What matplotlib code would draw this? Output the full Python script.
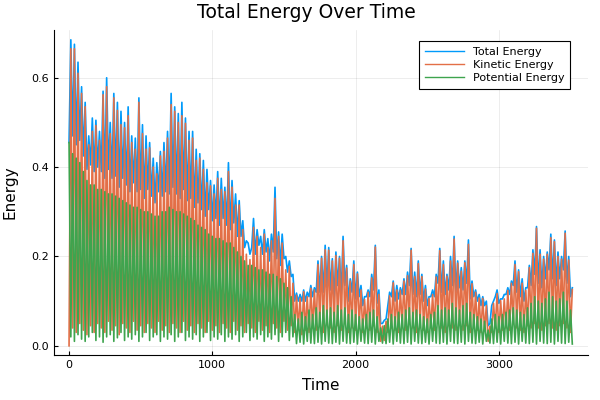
import numpy as np
import matplotlib
matplotlib.use("Agg")
import matplotlib.pyplot as plt

# sampling step of the simulation output (time units)
dt = 12.5

# values, alternating swing low / swing high
total_energy = [
    0.455, 0.685, 0.47, 0.675, 0.45, 0.635, 0.46, 0.58, 0.425, 0.545,
    0.395, 0.47, 0.405, 0.51, 0.39, 0.505, 0.40, 0.48, 0.39, 0.57,
    0.375, 0.60, 0.395, 0.50, 0.375, 0.565, 0.38, 0.545, 0.355, 0.525,
    0.375, 0.50, 0.36, 0.535, 0.345, 0.47, 0.365, 0.465, 0.345, 0.555,
    0.35, 0.495, 0.33, 0.47, 0.35, 0.455, 0.335, 0.42, 0.32, 0.41,
    0.345, 0.435, 0.335, 0.455, 0.345, 0.48, 0.34, 0.565, 0.355, 0.535,
    0.34, 0.52, 0.33, 0.545, 0.35, 0.51, 0.325, 0.48, 0.33, 0.48,
    0.31, 0.44, 0.32, 0.43, 0.305, 0.415, 0.29, 0.395, 0.305, 0.37,
    0.28, 0.36, 0.285, 0.39, 0.27, 0.375, 0.285, 0.355, 0.27, 0.41,
    0.26, 0.37, 0.275, 0.34, 0.245, 0.325, 0.245, 0.28, 0.22, 0.235,
    0.23, 0.205, 0.22, 0.285, 0.205, 0.26, 0.225, 0.245, 0.205, 0.26,
    0.21, 0.24, 0.19, 0.25, 0.21, 0.355, 0.195, 0.255, 0.18, 0.25,
    0.195, 0.20, 0.165, 0.19, 0.155, 0.16, 0.10, 0.118, 0.10, 0.115,
    0.10, 0.125, 0.10, 0.12, 0.11, 0.135, 0.11, 0.13, 0.12, 0.19,
    0.12, 0.20, 0.12, 0.225, 0.13, 0.22, 0.125, 0.195, 0.105, 0.21,
    0.135, 0.20, 0.115, 0.245, 0.135, 0.18, 0.10, 0.15, 0.12, 0.19,
    0.105, 0.165, 0.11, 0.135, 0.09, 0.11, 0.11, 0.125, 0.11, 0.16,
    0.125, 0.225, 0.095, 0.125, 0.05, 0.05, 0.057, 0.06, 0.09, 0.12,
    0.11, 0.145, 0.10, 0.135, 0.105, 0.13, 0.115, 0.15, 0.115, 0.165,
    0.135, 0.218, 0.115, 0.165, 0.11, 0.19, 0.115, 0.16, 0.10, 0.135,
    0.09, 0.11, 0.11, 0.125, 0.11, 0.16, 0.14, 0.218, 0.12, 0.19,
    0.115, 0.16, 0.125, 0.20, 0.135, 0.245, 0.12, 0.19, 0.13, 0.175,
    0.125, 0.19, 0.14, 0.237, 0.105, 0.145, 0.11, 0.125, 0.10, 0.115,
    0.09, 0.11, 0.09, 0.10, 0.045, 0.05, 0.09, 0.10, 0.11, 0.125,
    0.095, 0.105, 0.105, 0.115, 0.115, 0.13, 0.115, 0.145, 0.135, 0.19,
    0.12, 0.17, 0.11, 0.15, 0.10, 0.13, 0.13, 0.18, 0.135, 0.215,
    0.16, 0.267, 0.14, 0.215, 0.13, 0.20, 0.15, 0.21, 0.17, 0.25,
    0.15, 0.237, 0.135, 0.21, 0.15, 0.20, 0.17, 0.257, 0.14, 0.20,
    0.11, 0.13,
]

kinetic_energy = [
    0.00, 0.665, 0.04, 0.665, 0.03, 0.61, 0.05, 0.565, 0.035, 0.535,
    0.025, 0.45, 0.045, 0.48, 0.03, 0.493, 0.05, 0.46, 0.04, 0.562,
    0.03, 0.58, 0.055, 0.475, 0.035, 0.555, 0.045, 0.527, 0.025, 0.495,
    0.05, 0.488, 0.04, 0.515, 0.03, 0.455, 0.055, 0.44, 0.035, 0.545,
    0.045, 0.475, 0.03, 0.44, 0.05, 0.443, 0.04, 0.40, 0.03, 0.385,
    0.055, 0.425, 0.035, 0.435, 0.045, 0.465, 0.03, 0.54, 0.05, 0.525,
    0.04, 0.50, 0.03, 0.515, 0.055, 0.498, 0.035, 0.46, 0.045, 0.465,
    0.03, 0.415, 0.05, 0.42, 0.04, 0.395, 0.03, 0.365, 0.055, 0.358,
    0.035, 0.34, 0.045, 0.375, 0.03, 0.35, 0.05, 0.345, 0.04, 0.39,
    0.03, 0.355, 0.055, 0.315, 0.035, 0.315, 0.045, 0.26, 0.03, 0.205,
    0.05, 0.193, 0.04, 0.265, 0.03, 0.245, 0.055, 0.22, 0.035, 0.25,
    0.045, 0.22, 0.03, 0.235, 0.05, 0.33, 0.04, 0.245, 0.03, 0.23,
    0.055, 0.17, 0.035, 0.178, 0.045, 0.14, 0.03, 0.113, 0.04, 0.107,
    0.025, 0.121, 0.035, 0.11, 0.03, 0.129, 0.04, 0.125, 0.035, 0.182,
    0.045, 0.196, 0.03, 0.215, 0.05, 0.214, 0.04, 0.19, 0.03, 0.202,
    0.045, 0.196, 0.035, 0.235, 0.05, 0.174, 0.03, 0.145, 0.04, 0.182,
    0.035, 0.161, 0.045, 0.125, 0.03, 0.104, 0.04, 0.12, 0.035, 0.152,
    0.045, 0.221, 0.03, 0.115, 0.01, 0.044, 0.012, 0.055, 0.03, 0.112,
    0.04, 0.141, 0.035, 0.125, 0.03, 0.124, 0.045, 0.145, 0.035, 0.157,
    0.05, 0.214, 0.04, 0.155, 0.03, 0.184, 0.045, 0.155, 0.035, 0.127,
    0.03, 0.106, 0.04, 0.115, 0.035, 0.154, 0.05, 0.213, 0.04, 0.182,
    0.03, 0.156, 0.045, 0.19, 0.04, 0.239, 0.035, 0.185, 0.05, 0.167,
    0.035, 0.186, 0.045, 0.227, 0.03, 0.139, 0.04, 0.12, 0.035, 0.107,
    0.03, 0.106, 0.035, 0.09, 0.01, 0.044, 0.03, 0.095, 0.04, 0.117,
    0.03, 0.101, 0.035, 0.105, 0.04, 0.124, 0.035, 0.14, 0.05, 0.182,
    0.04, 0.166, 0.035, 0.14, 0.03, 0.124, 0.045, 0.175, 0.04, 0.207,
    0.05, 0.263, 0.04, 0.205, 0.035, 0.194, 0.045, 0.205, 0.05, 0.242,
    0.04, 0.233, 0.035, 0.20, 0.045, 0.194, 0.05, 0.252, 0.04, 0.192,
    0.03, 0.126,
]

potential_energy = [
    0.455, 0.02, 0.43, 0.01, 0.42, 0.025, 0.41, 0.015, 0.39, 0.01,
    0.37, 0.02, 0.36, 0.03, 0.36, 0.012, 0.35, 0.02, 0.35, 0.008,
    0.345, 0.02, 0.34, 0.025, 0.34, 0.01, 0.335, 0.018, 0.33, 0.03,
    0.325, 0.012, 0.32, 0.02, 0.315, 0.015, 0.31, 0.025, 0.31, 0.01,
    0.305, 0.02, 0.30, 0.03, 0.30, 0.012, 0.295, 0.02, 0.29, 0.025,
    0.29, 0.01, 0.30, 0.02, 0.30, 0.015, 0.31, 0.025, 0.305, 0.01,
    0.30, 0.02, 0.30, 0.03, 0.295, 0.012, 0.29, 0.02, 0.285, 0.015,
    0.28, 0.025, 0.27, 0.01, 0.265, 0.02, 0.26, 0.03, 0.25, 0.012,
    0.245, 0.02, 0.24, 0.015, 0.24, 0.025, 0.235, 0.01, 0.23, 0.02,
    0.23, 0.015, 0.22, 0.025, 0.21, 0.01, 0.20, 0.02, 0.19, 0.03,
    0.18, 0.012, 0.18, 0.02, 0.175, 0.015, 0.17, 0.025, 0.17, 0.01,
    0.165, 0.02, 0.16, 0.015, 0.16, 0.025, 0.155, 0.01, 0.15, 0.02,
    0.14, 0.03, 0.13, 0.012, 0.11, 0.02, 0.07, 0.005, 0.06, 0.008,
    0.075, 0.004, 0.065, 0.01, 0.08, 0.006, 0.07, 0.005, 0.085, 0.008,
    0.075, 0.004, 0.09, 0.01, 0.08, 0.006, 0.085, 0.005, 0.075, 0.008,
    0.09, 0.004, 0.08, 0.01, 0.085, 0.006, 0.07, 0.005, 0.08, 0.008,
    0.07, 0.004, 0.065, 0.01, 0.06, 0.006, 0.07, 0.005, 0.075, 0.008,
    0.08, 0.004, 0.065, 0.01, 0.04, 0.006, 0.045, 0.005, 0.06, 0.008,
    0.07, 0.004, 0.065, 0.01, 0.075, 0.006, 0.07, 0.005, 0.08, 0.008,
    0.085, 0.004, 0.075, 0.01, 0.08, 0.006, 0.07, 0.005, 0.065, 0.008,
    0.06, 0.004, 0.07, 0.01, 0.075, 0.006, 0.09, 0.005, 0.08, 0.008,
    0.085, 0.004, 0.08, 0.01, 0.095, 0.006, 0.085, 0.005, 0.08, 0.008,
    0.09, 0.004, 0.095, 0.01, 0.075, 0.006, 0.07, 0.005, 0.065, 0.008,
    0.06, 0.004, 0.055, 0.01, 0.035, 0.006, 0.06, 0.005, 0.07, 0.008,
    0.065, 0.004, 0.07, 0.01, 0.075, 0.006, 0.08, 0.005, 0.085, 0.008,
    0.08, 0.004, 0.075, 0.01, 0.07, 0.006, 0.085, 0.005, 0.095, 0.008,
    0.11, 0.004, 0.10, 0.01, 0.095, 0.006, 0.105, 0.005, 0.12, 0.008,
    0.11, 0.004, 0.10, 0.01, 0.105, 0.006, 0.12, 0.005, 0.10, 0.008,
    0.08, 0.004,
]

time = np.arange(len(total_energy)) * dt

fig = plt.figure(figsize=(6, 4), dpi=100)
ax = fig.add_axes([0.09, 0.1125, 0.89, 0.8125])

lw = 1.2
ax.plot(time, total_energy, color="#009AFA", lw=lw, label="Total Energy")
ax.plot(time, kinetic_energy, color="#E36F47", lw=lw, label="Kinetic Energy")
ax.plot(time, potential_energy, color="#3EA44E", lw=lw, label="Potential Energy")

ax.set_xlim(-105, 3622)
ax.set_ylim(-0.0206, 0.707)
ax.set_xticks([0, 1000, 2000, 3000])
ax.set_yticks([0.0, 0.2, 0.4, 0.6])
ax.set_yticklabels(["0.0", "0.2", "0.4", "0.6"])

ax.grid(True, color="black", alpha=0.1, lw=0.5)
ax.spines["top"].set_visible(False)
ax.spines["right"].set_visible(False)
ax.tick_params(direction="in", labelsize=8, length=3)

fig.text(0.51, 0.97, "Total Energy Over Time", fontsize=13.5,
         ha="center", va="center")
ax.set_xlabel("Time", fontsize=11, labelpad=6)
ax.set_ylabel("Energy", fontsize=11)
ax.yaxis.set_label_coords(-0.068, 0.5)

leg = ax.legend(loc="upper right", fontsize=8, fancybox=False, framealpha=1,
                edgecolor="black", borderpad=0.5, handlelength=3.5,
                labelspacing=0.3, borderaxespad=0,
                bbox_to_anchor=(0.966, 0.966))
leg.get_frame().set_linewidth(0.8)
for line in leg.get_lines():
    line.set_linewidth(1.0)

plt.savefig("out.png", dpi=100)
